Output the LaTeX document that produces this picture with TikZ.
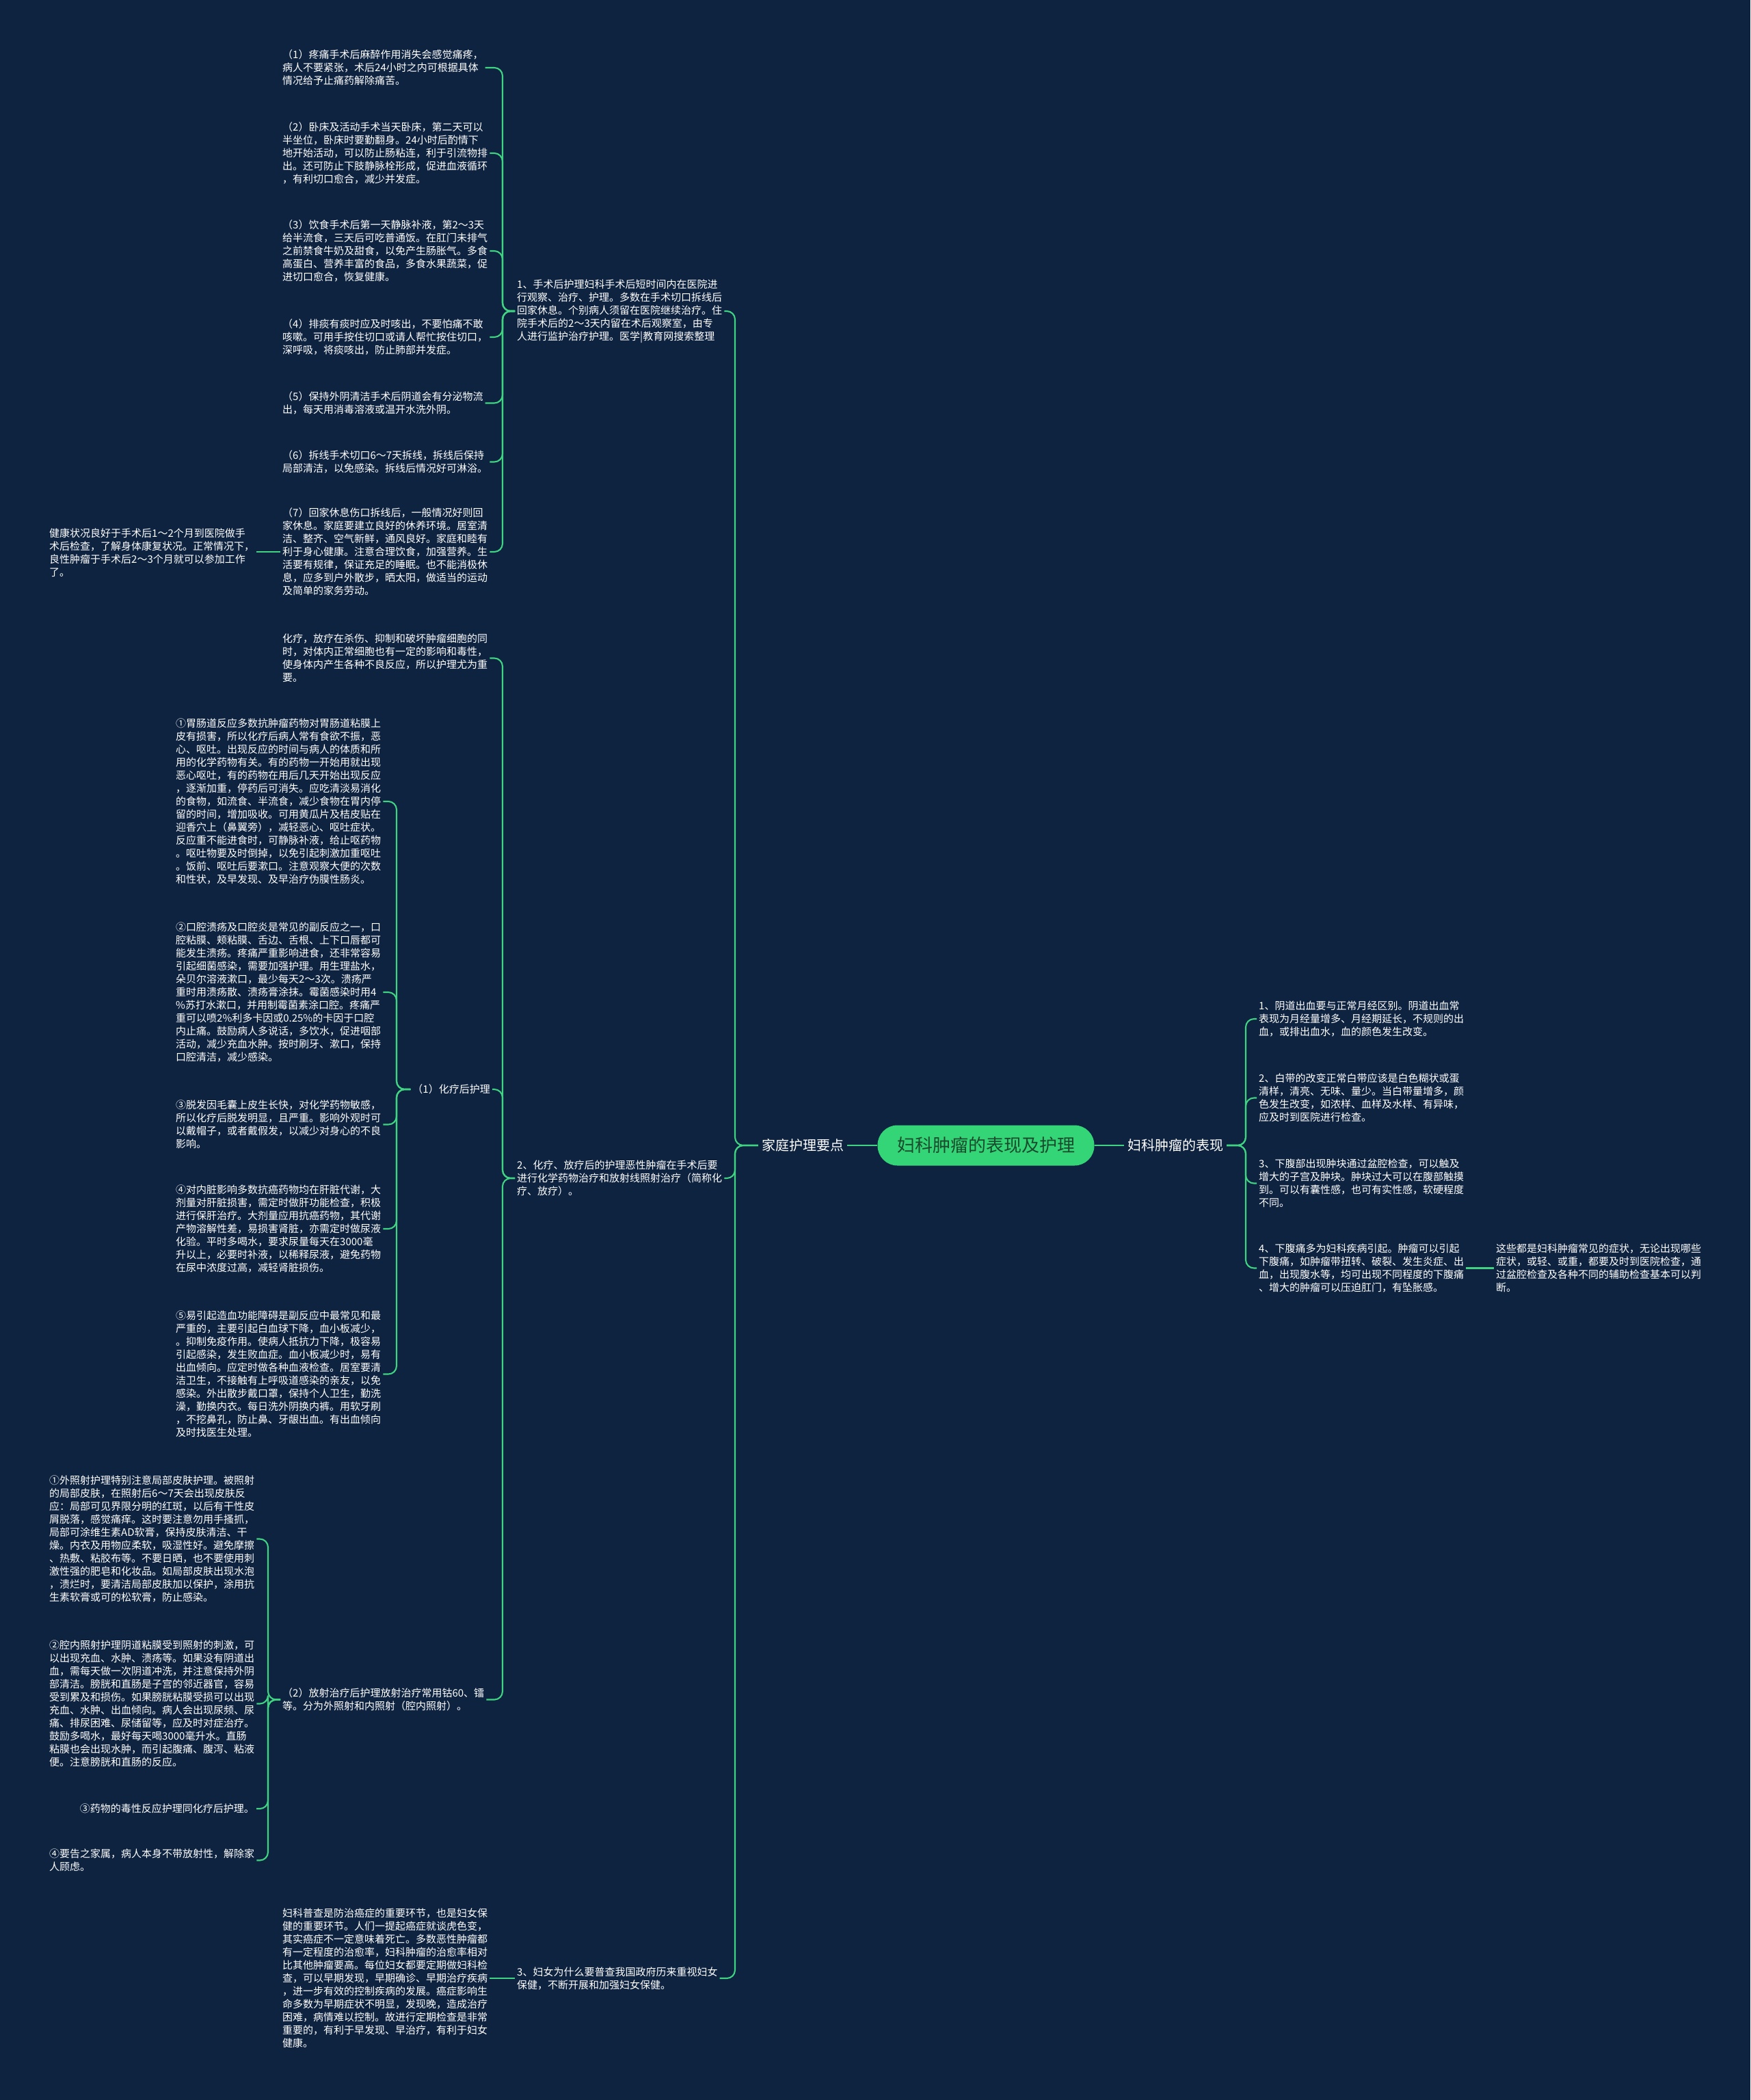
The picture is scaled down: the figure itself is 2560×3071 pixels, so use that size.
\documentclass[tikz,border=0pt]{standalone}
\usepackage{fontspec}
\setmainfont{Noto Sans CJK SC}
\definecolor{bgnavy}{HTML}{0E2340}
\definecolor{linegreen}{HTML}{3FD382}
\definecolor{nodegreen}{HTML}{34D576}
\definecolor{titletext}{HTML}{1B4A2C}
\begin{document}
\begin{tikzpicture}[x=1pt,y=-1pt,
  body/.style={text=white,font=\fontsize{15}{19}\selectfont,align=left,inner xsep=3pt,inner ysep=0pt},
  branch/.style={text=white,font=\fontsize{20}{24}\selectfont,inner xsep=5pt,inner ysep=2pt},
  title/.style={fill=nodegreen,text=titletext,rounded corners=29pt,minimum width=317pt,minimum height=59pt,font=\fontsize{26}{30}\selectfont,inner sep=0pt},
  conn/.style={draw=linegreen,line width=2.1pt,rounded corners=12pt}]
\fill[bgnavy] (0,0) rectangle (2560,3071);
\useasboundingbox (0,0) rectangle (2560,3071);

% centre and main branches
\node[title] (root) at (1442,1675) {妇科肿瘤的表现及护理};
\node[branch] (home) at (1174,1675) {家庭护理要点};
\node[branch] (show) at (1719,1675) {妇科肿瘤的表现};

% left: level 1
\node[body,anchor=west] (L1) at (753,455) {1、手术后护理妇科手术后短时间内在医院进\\行观察、治疗、护理。多数在手术切口拆线后\\回家休息。个别病人须留在医院继续治疗。住\\院手术后的2～3天内留在术后观察室，由专\\人进行监护治疗护理。医学|教育网搜索整理};
\node[body,anchor=west] (L2) at (753,1723) {2、化疗、放疗后的护理恶性肿瘤在手术后要\\进行化学药物治疗和放射线照射治疗（简称化\\疗、放疗）。};
\node[body,anchor=west] (L3) at (753,2893) {3、妇女为什么要普查我国政府历来重视妇女\\保健，不断开展和加强妇女保健。};

% children of L1
\node[body,anchor=west] (a1) at (410,99) {（1）疼痛手术后麻醉作用消失会感觉痛疼，\\病人不要紧张，术后24小时之内可根据具体\\情况给予止痛药解除痛苦。};
\node[body,anchor=west] (a2) at (410,224) {（2）卧床及活动手术当天卧床，第二天可以\\半坐位，卧床时要勤翻身。24小时后酌情下\\地开始活动，可以防止肠粘连，利于引流物排\\出。还可防止下肢静脉栓形成，促进血液循环\\，有利切口愈合，减少并发症。};
\node[body,anchor=west] (a3) at (410,367) {（3）饮食手术后第一天静脉补液，第2～3天\\给半流食，三天后可吃普通饭。在肛门未排气\\之前禁食牛奶及甜食，以免产生肠胀气。多食\\高蛋白、营养丰富的食品，多食水果蔬菜，促\\进切口愈合，恢复健康。};
\node[body,anchor=west] (a4) at (410,493) {（4）排痰有痰时应及时咳出，不要怕痛不敢\\咳嗽。可用手按住切口或请人帮忙按住切口，\\深呼吸，将痰咳出，防止肺部并发症。};
\node[body,anchor=west] (a5) at (410,589.5) {（5）保持外阴清洁手术后阴道会有分泌物流\\出，每天用消毒溶液或温开水洗外阴。};
\node[body,anchor=west] (a6) at (410,675.5) {（6）拆线手术切口6～7天拆线，拆线后保持\\局部清洁，以免感染。拆线后情况好可淋浴。};
\node[body,anchor=west] (a7) at (410,807) {（7）回家休息伤口拆线后，一般情况好则回\\家休息。家庭要建立良好的休养环境。居室清\\洁、整齐、空气新鲜，通风良好。家庭和睦有\\利于身心健康。注意合理饮食，加强营养。生\\活要有规律，保证充足的睡眠。也不能消极休\\息，应多到户外散步，晒太阳，做适当的运动\\及简单的家务劳动。};
\node[body,anchor=west] (a7c) at (69,808.5) {健康状况良好于手术后1～2个月到医院做手\\术后检查，了解身体康复状况。正常情况下，\\良性肿瘤于手术后2～3个月就可以参加工作\\了。};

% children of L2
\node[body,anchor=west] (b0) at (410,962.5) {化疗，放疗在杀伤、抑制和破坏肿瘤细胞的同\\时，对体内正常细胞也有一定的影响和毒性，\\使身体内产生各种不良反应，所以护理尤为重\\要。};
\node[body,anchor=east] (b1) at (720,1593) {（1）化疗后护理};
\node[body,anchor=west] (b2) at (410,2485.5) {（2）放射治疗后护理放射治疗常用钴60、镭\\等。分为外照射和内照射（腔内照射）。};

% children of chemo
\node[body,anchor=west] (c1) at (254,1172) {①胃肠道反应多数抗肿瘤药物对胃肠道粘膜上\\皮有损害，所以化疗后病人常有食欲不振，恶\\心、呕吐。出现反应的时间与病人的体质和所\\用的化学药物有关。有的药物一开始用就出现\\恶心呕吐，有的药物在用后几天开始出现反应\\，逐渐加重，停药后可消失。应吃清淡易消化\\的食物，如流食、半流食，减少食物在胃内停\\留的时间，增加吸收。可用黄瓜片及桔皮贴在\\迎香穴上（鼻翼旁），减轻恶心、呕吐症状。\\反应重不能进食时，可静脉补液，给止呕药物\\。呕吐物要及时倒掉，以免引起刺激加重呕吐\\。饭前、呕吐后要漱口。注意观察大便的次数\\和性状，及早发现、及早治疗伪膜性肠炎。};
\node[body,anchor=west] (c2) at (254,1451) {②口腔溃疡及口腔炎是常见的副反应之一，口\\腔粘膜、颊粘膜、舌边、舌根、上下口唇都可\\能发生溃疡。疼痛严重影响进食，还非常容易\\引起细菌感染，需要加强护理。用生理盐水，\\朵贝尔溶液漱口，最少每天2～3次。溃疡严\\重时用溃疡散、溃疡膏涂抹。霉菌感染时用4\\\%苏打水漱口，并用制霉菌素涂口腔。疼痛严\\重可以喷2\%利多卡因或0.25\%的卡因于口腔\\内止痛。鼓励病人多说话，多饮水，促进咽部\\活动，减少充血水肿。按时刷牙、漱口，保持\\口腔清洁，减少感染。};
\node[body,anchor=west] (c3) at (254,1644.5) {③脱发因毛囊上皮生长快，对化学药物敏感，\\所以化疗后脱发明显，且严重。影响外观时可\\以戴帽子，或者戴假发，以减少对身心的不良\\影响。};
\node[body,anchor=west] (c4) at (254,1797) {④对内脏影响多数抗癌药物均在肝脏代谢，大\\剂量对肝脏损害，需定时做肝功能检查，积极\\进行保肝治疗。大剂量应用抗癌药物，其代谢\\产物溶解性差，易损害肾脏，亦需定时做尿液\\化验。平时多喝水，要求尿量每天在3000毫\\升以上，必要时补液，以稀释尿液，避免药物\\在尿中浓度过高，减轻肾脏损伤。};
\node[body,anchor=west] (c5) at (254,2009.5) {⑤易引起造血功能障碍是副反应中最常见和最\\严重的，主要引起白血球下降，血小板减少，\\。抑制免疫作用。使病人抵抗力下降，极容易\\引起感染，发生败血症。血小板减少时，易有\\出血倾向。应定时做各种血液检查。居室要清\\洁卫生，不接触有上呼吸道感染的亲友，以免\\感染。外出散步戴口罩，保持个人卫生，勤洗\\澡，勤换内衣。每日洗外阴换内裤。用软牙刷\\，不挖鼻孔，防止鼻、牙龈出血。有出血倾向\\及时找医生处理。};

% children of radiation
\node[body,anchor=west] (d1) at (69,2250.5) {①外照射护理特别注意局部皮肤护理。被照射\\的局部皮肤，在照射后6～7天会出现皮肤反\\应：局部可见界限分明的红斑，以后有干性皮\\屑脱落，感觉痛痒。这时要注意勿用手搔抓，\\局部可涂维生素AD软膏，保持皮肤清洁、干\\燥。内衣及用物应柔软，吸湿性好。避免摩擦\\、热敷、粘胶布等。不要日晒，也不要使用刺\\激性强的肥皂和化妆品。如局部皮肤出现水泡\\，溃烂时，要清洁局部皮肤加以保护，涂用抗\\生素软膏或可的松软膏，防止感染。};
\node[body,anchor=west] (d2) at (69,2491.5) {②腔内照射护理阴道粘膜受到照射的刺激，可\\以出现充血、水肿、溃疡等。如果没有阴道出\\血，需每天做一次阴道冲洗，并注意保持外阴\\部清洁。膀胱和直肠是子宫的邻近器官，容易\\受到累及和损伤。如果膀胱粘膜受损可以出现\\充血、水肿、出血倾向。病人会出现尿频、尿\\痛、排尿困难、尿储留等，应及时对症治疗。\\鼓励多喝水，最好每天喝3000毫升水。直肠\\粘膜也会出现水肿，而引起腹痛、腹泻、粘液\\便。注意膀胱和直肠的反应。};
\node[body,anchor=east] (d3) at (375,2645) {③药物的毒性反应护理同化疗后护理。};
\node[body,anchor=west] (d4) at (69,2720.5) {④要告之家属，病人本身不带放射性，解除家\\人顾虑。};

% child of L3
\node[body,anchor=west] (e1) at (410,2893) {妇科普查是防治癌症的重要环节，也是妇女保\\健的重要环节。人们一提起癌症就谈虎色变，\\其实癌症不一定意味着死亡。多数恶性肿瘤都\\有一定程度的治愈率，妇科肿瘤的治愈率相对\\比其他肿瘤要高。每位妇女都要定期做妇科检\\查，可以早期发现，早期确诊、早期治疗疾病\\，进一步有效的控制疾病的发展。癌症影响生\\命多数为早期症状不明显，发现晚，造成治疗\\困难，病情难以控制。故进行定期检查是非常\\重要的，有利于早发现、早治疗，有利于妇女\\健康。};

% right side
\node[body,anchor=west] (r1) at (1838,1490) {1、阴道出血要与正常月经区别。阴道出血常\\表现为月经量增多、月经期延长，不规则的出\\血，或排出血水，血的颜色发生改变。};
\node[body,anchor=west] (r2) at (1838,1605.5) {2、白带的改变正常白带应该是白色糊状或蛋\\清样，清亮、无味、量少。当白带量增多，颜\\色发生改变，如浓样、血样及水样、有异味，\\应及时到医院进行检查。};
\node[body,anchor=west] (r3) at (1838,1730.5) {3、下腹部出现肿块通过盆腔检查，可以触及\\增大的子宫及肿块。肿块过大可以在腹部触摸\\到。可以有囊性感，也可有实性感，软硬程度\\不同。};
\node[body,anchor=west] (r4) at (1838,1854.5) {4、下腹痛多为妇科疾病引起。肿瘤可以引起\\下腹痛，如肿瘤带扭转、破裂、发生炎症、出\\血，出现腹水等，均可出现不同程度的下腹痛\\、增大的肿瘤可以压迫肛门，有坠胀感。};
\node[body,anchor=west] (r4c) at (2185,1854.5) {这些都是妇科肿瘤常见的症状，无论出现哪些\\症状，或轻、或重，都要及时到医院检查，通\\过盆腔检查及各种不同的辅助检查基本可以判\\断。};

% spine points
\coordinate (sL) at (1075,1675);
\coordinate (s1) at (735,455);
\coordinate (s2) at (735,1723);
\coordinate (sc) at (580,1593);
\coordinate (sr) at (392,2485.5);
\coordinate (sR) at (1822,1675);

% connectors
\draw[conn] (root.west) -- (home.east);
\draw[conn] (root.east) -- (show.west);
\foreach \c in {L1,L2,L3} \draw[conn] (home.west) -- (sL) |- (\c.east);
\foreach \c in {a1,a2,a3,a4,a5,a6,a7} \draw[conn] (L1.west) -- (s1) |- (\c.east);
\draw[conn] (a7.west) -- (a7.west -| a7c.east);
\foreach \c in {b0,b1,b2} \draw[conn] (L2.west) -- (s2) |- (\c.east);
\foreach \c in {c1,c2,c3,c4,c5} \draw[conn] (b1.west) -- (sc) |- (\c.east);
\foreach \c in {d1,d2,d3,d4} \draw[conn] (b2.west) -- (sr) |- (\c.east);
\draw[conn] (L3.west) -- (L3.west -| e1.east);
\foreach \c in {r1,r2,r3,r4} \draw[conn] (show.east) -- (sR) |- (\c.west);
\draw[conn] (r4.east) -- (r4.east -| r4c.west);
\end{tikzpicture}
\end{document}
